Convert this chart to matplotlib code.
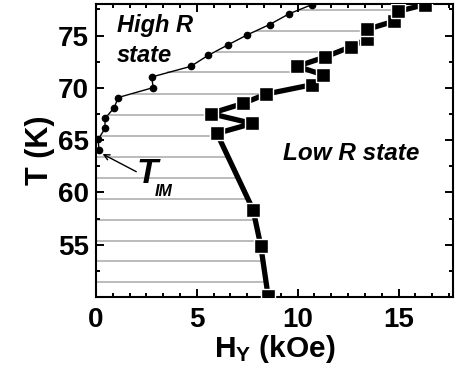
import numpy as np
import matplotlib
matplotlib.use("Agg")
import matplotlib.pyplot as plt
from matplotlib.ticker import MultipleLocator

plt.rcParams['font.family'] = ['Liberation Sans', 'DejaVu Sans']
plt.rcParams['font.weight'] = 'bold'
plt.rcParams['mathtext.fontset'] = 'custom'
plt.rcParams['mathtext.rm'] = 'Liberation Sans:bold'
plt.rcParams['mathtext.bf'] = 'Liberation Sans:bold'
plt.rcParams['mathtext.it'] = 'Liberation Sans:bold:italic'

# High R boundary (small circles)
high_H = [0.15, 0.11, 0.45, 0.45, 0.91, 1.10, 2.84, 2.76, 4.70, 5.56, 6.55, 7.51, 8.61, 9.57, 10.7]
high_T = [64.05, 65.07, 66.11, 67.07, 68.11, 69.07, 70.02, 71.03, 72.05, 73.1, 74.11, 75.07, 76.05, 77.07, 77.95]

# Low R boundary (squares)
low_H = [8.53, 8.17, 7.79, 6.0, 7.75, 5.68, 7.29, 8.43, 10.73, 11.27, 9.97, 11.34, 12.63, 13.42, 13.44, 14.75, 14.95, 16.3]
low_T = [50.14, 54.9, 58.33, 65.64, 66.59, 67.54, 68.5, 69.4, 70.3, 71.24, 72.05, 72.93, 73.92, 74.64, 75.59, 76.35, 77.3, 77.95]

# Gray measurement lines
grid_T = [51.4, 53.4, 55.4, 57.4, 59.4, 61.4, 63.4, 65.35, 67.4, 69.45, 71.5, 73.45, 75.45, 77.4]
grid_start = [0, 0, 0, 0, 0, 0, 0, 0.25, 0.63, 1.80, 3.54, 5.96, 7.95, 10.02]
grid_end = [8.43, 8.28, 8.11, 7.89, 7.53, 7.04, 6.55, 6.06, 5.98, 8.43, 11.01, 11.95, 13.44, 15.16]

fig = plt.figure(figsize=(4.59, 3.75), dpi=100)
ax = fig.add_axes([0.209, 0.208, 0.778, 0.781])

ax.hlines(grid_T, grid_start, grid_end, colors='#a8a8a8', linewidth=1.1, zorder=1)

ax.plot(high_H, high_T, '-o', color='black', linewidth=1.0, markersize=4.5, zorder=3)
ax.plot(low_H, low_T, '-s', color='black', linewidth=3.8, markersize=9.5,
        markeredgecolor='white', markeredgewidth=1.0, zorder=4, clip_on=True)

ax.set_xlim(0, 17.7)
ax.set_ylim(50, 78)
ax.xaxis.set_major_locator(MultipleLocator(5))
ax.xaxis.set_minor_locator(MultipleLocator(5/6))
ax.yaxis.set_minor_locator(MultipleLocator(2.5))
ax.set_yticks([55, 60, 65, 70, 75])

ax.tick_params(which='both', direction='in', top=True, right=True, width=1.4)
ax.tick_params(which='major', length=6)
ax.tick_params(which='minor', length=3)
ax.tick_params(axis='x', which='major', labelsize=20, pad=7)
ax.tick_params(axis='y', which='major', labelsize=20, pad=5)
for s in ax.spines.values():
    s.set_linewidth(1.5)

ax.set_xlabel(r'H$_{\mathrm{Y}}$ (kOe)', fontsize=21.5, fontweight='bold', labelpad=0)
ax.set_ylabel('T (K)', fontsize=22, fontweight='bold', labelpad=2)

ax.text(1.04, 75.29, 'High R', fontsize=17, fontweight='bold', style='italic', ha='left', va='baseline')
ax.text(1.04, 72.46, 'state', fontsize=17, fontweight='bold', style='italic', ha='left', va='baseline')
ax.text(9.26, 63.1, 'Low R state', fontsize=17.5, fontweight='bold', style='italic', ha='left', va='baseline')

ax.text(2.0, 60.9, 'T', fontsize=25, fontweight='bold', style='italic', ha='left', va='baseline')
ax.text(2.92, 59.7, 'IM', fontsize=11.5, fontweight='bold', style='italic', ha='left', va='baseline')
ax.annotate('', xy=(0.33, 63.67), xytext=(2.0, 61.98),
            arrowprops=dict(arrowstyle='->', color='black', lw=1.0, shrinkA=0, shrinkB=0))

fig.savefig('out.png', dpi=100)
